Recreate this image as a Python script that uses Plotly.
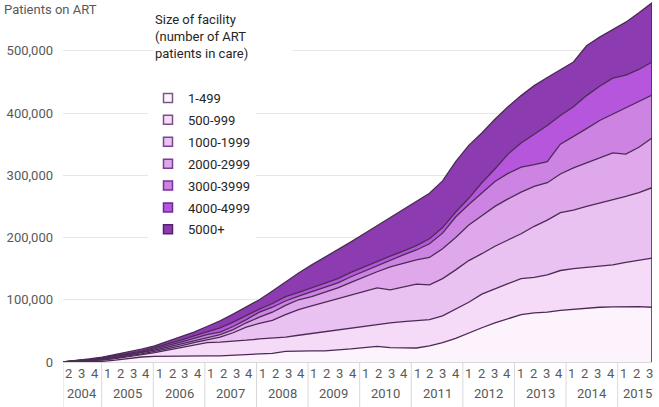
import plotly.graph_objects as go

# ---------------- data (patients on ART, by facility size) ----------------
year_labels = ["2004", "2005", "2006", "2007", "2008", "2009", "2010",
               "2011", "2012", "2013", "2014", "2015"]
quarters_in_year = [[2, 3, 4]] + [[1, 2, 3, 4]] * 10 + [[1, 2, 3]]

size_labels = ["1-499", "500-999", "1000-1999", "2000-2999",
               "3000-3999", "4000-4999", "5000+"]

s_1_499 = [0, 300, 600, 1000, 3000, 6000, 8000, 9000, 9500, 9500, 9500, 10000,
           10000, 11000, 12000, 12000, 14000, 17000, 18000, 18000, 18000, 19000,
           21000, 23000, 25000, 23000, 22500, 22500, 26000, 31000, 38000, 47000,
           55000, 63000, 70000, 76000, 79000, 80000, 83000, 85000, 87000, 88000,
           88500, 89000, 89000, 88000]
s_500_999 = [0, 500, 1200, 2000, 2500, 2500, 3500, 6000, 9500, 13500, 17500, 21000,
             22000, 22000, 23000, 25000, 24000, 23000, 25000, 28000, 30000, 32000,
             34000, 35000, 36000, 40000, 42500, 43500, 42000, 43000, 47000, 49000,
             54000, 55000, 56000, 58000, 57000, 60000, 64000, 65000, 65000, 66000,
             67500, 71000, 74000, 79000]
s_1000_1999 = [0, 200, 600, 1000, 1000, 1000, 1500, 2000, 2000, 3000, 4000, 5000,
               8000, 14000, 21000, 25000, 29000, 36000, 41000, 44000, 48000, 50000,
               53000, 56000, 58000, 53000, 55000, 59000, 56000, 60000, 63000, 67000,
               65000, 68000, 70000, 72000, 82000, 88000, 93000, 94000, 98000, 101000,
               104000, 106000, 109000, 113000]
s_2000_2999 = [0, 300, 600, 1000, 1000, 1500, 1500, 2000, 3000, 3000, 4000, 4000,
               4000, 5000, 7000, 10000, 13000, 15000, 16000, 15000, 16000, 18000,
               20000, 23000, 26000, 37000, 39000, 39000, 44000, 48000, 52000, 57000,
               61000, 64000, 66000, 67000, 64000, 60000, 62000, 68000, 70000, 73000,
               76000, 68000, 73000, 80000]
s_3000_3999 = [0, 300, 600, 1000, 1500, 1500, 1500, 2000, 2000, 3000, 3000, 4000,
               4000, 5000, 5000, 8000, 8000, 7000, 6000, 8000, 8000, 8000,
               9000, 9000, 10000, 11000, 13000, 16000, 22000, 25000, 33000, 33000,
               37000, 40000, 41000, 40000, 35000, 34000, 48000, 50000, 55000, 60000,
               62000, 74000, 73000, 69000]
s_4000_4999 = [0, 200, 600, 1000, 1000, 1500, 1500, 2000, 2500, 3000, 4000, 5000,
               7000, 7000, 7000, 5000, 6000, 7000, 6000, 6000, 6000, 7000,
               7000, 7000, 6000, 6000, 6000, 7000, 8000, 9000, 8000, 10000,
               16000, 20000, 31000, 39000, 49000, 58000, 46000, 48000, 53000, 55000,
               58000, 53000, 52000, 53000]
s_5000_plus = [0, 400, 800, 1000, 2000, 2000, 3000, 3000, 4500, 5000, 6000, 8000,
               11000, 13000, 13000, 15000, 20000, 24000, 31000, 37000, 42000, 46000,
               49000, 53000, 58000, 62000, 67000, 71000, 73000, 75000, 81000, 85000,
               80000, 80000, 76000, 76000, 78000, 77000, 74000, 72000, 80000, 79000,
               78000, 85000, 91000, 95000]

series = [s_1_499, s_500_999, s_1000_1999, s_2000_2999,
          s_3000_3999, s_4000_4999, s_5000_plus]

# ---------------- styling ----------------
fills = ["#fdf3fc", "#f6dbf8", "#eac2f2", "#dea8ea", "#cc83e2", "#b656dc", "#8d3bb1"]
edge_cols = ["#7a5a82", "#7a4f86", "#7a4590", "#7a3c94", "#73349a", "#6a2a96", "#56206f"]
LINE = "#4b2b55"
FONT = "Roboto, Liberation Sans, Arial, sans-serif"
FS = 13
AXIS_TXT = "#595959"

W, H = 659, 407
ML, MR, MT, MB = 63, 7, 1, 45
plot_h = H - MT - MB
plot_w = W - ML - MR

# one x position per quarter
quarter_text = [str(q) for qs in quarters_in_year for q in qs]
n = len(quarter_text)
xs = list(range(n))
cat_w = 0.9855  # axis categories are slightly narrower than data spacing

fig = go.Figure()
for name, vals, fc in zip(size_labels, series, fills):
    fig.add_trace(go.Scatter(
        x=xs, y=vals, name=name, stackgroup="one", mode="lines",
        line=dict(color=LINE, width=1.3), fillcolor=fc, showlegend=False,
        hoverinfo="x+y+name"))

# right-hand closing edge of the area
total_last = sum(s[-1] for s in series)
fig.add_trace(go.Scatter(x=[xs[-1], xs[-1]], y=[0, total_last], mode="lines",
                         line=dict(color=LINE, width=1.6), showlegend=False,
                         hoverinfo="skip"))

# legend entries (square markers)
for i, (name, fc, ec) in enumerate(zip(size_labels, fills, edge_cols)):
    fig.add_trace(go.Scatter(
        x=[None], y=[None], mode="markers", name=name, legendgroup=str(i),
        marker=dict(symbol="square", size=9, color=fc, line=dict(color=ec, width=1.5))))

annotations = []
shapes = []
k = 0
for yl, qs in zip(year_labels, quarters_in_year):
    start = k
    shapes.append(dict(type="line", xref="x", yref="paper",
                       x0=start * cat_w, x1=start * cat_w, y0=0, y1=-MB / plot_h,
                       line=dict(color="#d9d9d9", width=1)))
    for q in qs:
        annotations.append(dict(x=(k + 0.45) * cat_w, y=-(373 - 362) / plot_h,
                                xref="x", yref="paper", text=str(q), showarrow=False,
                                xanchor="center", yanchor="middle",
                                font=dict(family=FONT, size=FS, color=AXIS_TXT)))
        k += 1
    annotations.append(dict(x=(start + len(qs) / 2) * cat_w, y=-(393 - 362) / plot_h,
                            xref="x", yref="paper", text=yl, showarrow=False,
                            xanchor="center", yanchor="middle",
                            font=dict(family=FONT, size=FS, color=AXIS_TXT)))

annotations.append(dict(x=(2 - ML) / plot_w, y=(362 - 9) / plot_h,
                        xref="paper", yref="paper", text="Patients on ART",
                        showarrow=False, xanchor="left", yanchor="middle",
                        font=dict(family=FONT, size=FS, color=AXIS_TXT)))
annotations.append(dict(x=(153 - ML) / plot_w, y=(362 - 10) / plot_h,
                        xref="paper", yref="paper",
                        text="Size of facility<br>(number of ART<br>patients in care)",
                        showarrow=False, xanchor="left", yanchor="top", align="left",
                        width=136, bgcolor="white", borderpad=1,
                        font=dict(family=FONT, size=FS, color="#262626")))

fig.update_layout(
    width=W, height=H,
    margin=dict(l=ML, r=MR, t=MT, b=MB),
    paper_bgcolor="white", plot_bgcolor="white",
    font=dict(family=FONT, size=FS, color=AXIS_TXT),
    showlegend=True,
    legend=dict(x=(148 - ML) / plot_w, y=(362 - 83) / plot_h,
                xanchor="left", yanchor="top", bgcolor="white",
                traceorder="grouped", tracegroupgap=2,
                font=dict(family=FONT, size=FS, color="#262626"),
                itemwidth=30),
    xaxis=dict(range=[0, n - 1], showgrid=False, zeroline=False,
               showticklabels=False, ticks="", showline=True,
               linecolor="#d9d9d9", linewidth=1),
    yaxis=dict(range=[0, 580000], tickvals=[0, 100000, 200000, 300000, 400000, 500000],
               tickformat=",", showgrid=True, gridcolor="#e6e6e6", gridwidth=1,
               zeroline=False, showline=False, ticks="", ticklabelstandoff=9,
               tickfont=dict(family=FONT, size=FS, color=AXIS_TXT)),
    annotations=annotations,
    shapes=shapes,
)

fig.write_html("out.html", config={"displayModeBar": False},
               post_script="document.body.style.margin='0';")
